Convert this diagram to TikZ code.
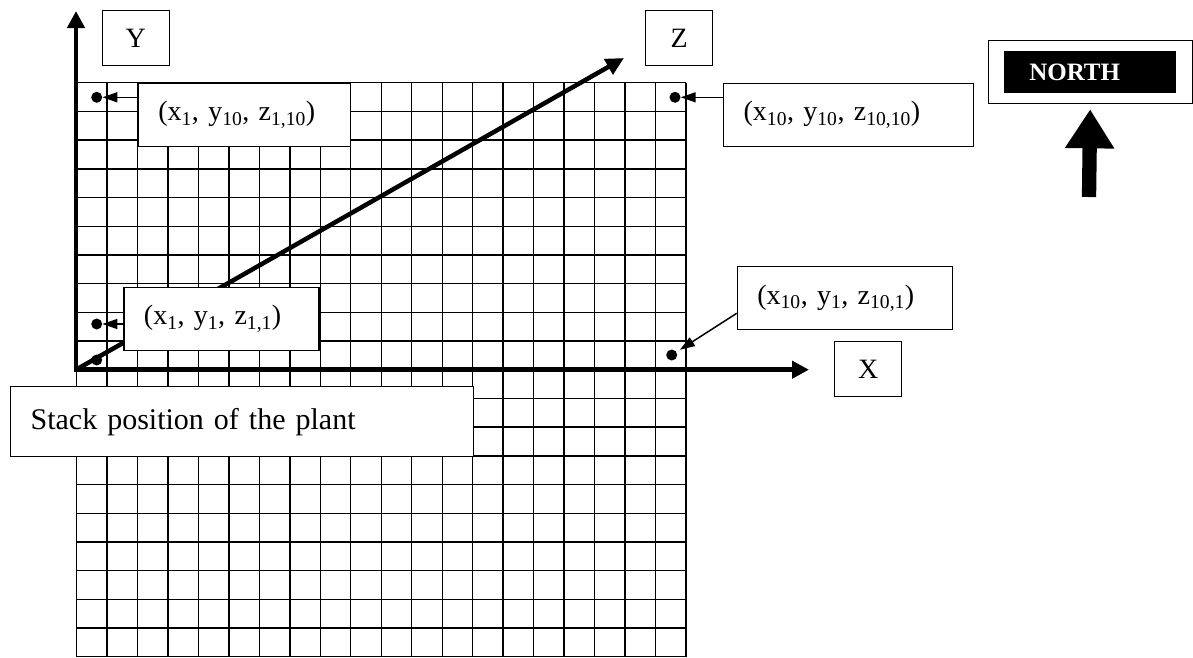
\documentclass[tikz,border=0pt]{standalone}
\usepackage{fontspec}
\setmainfont{Liberation Serif}
\usetikzlibrary{arrows.meta}

\tikzset{
  gridline/.style={line width=1.4pt},
  axisline/.style={line width=4.5pt},
  axlabel/.style={draw,fill=white,line width=1.3pt,minimum width=67pt,minimum height=55pt,anchor=north west,font=\fontsize{28}{30}\selectfont},
  coordbox/.style={draw,fill=white,line width=1.3pt,inner xsep=20pt,minimum height=63pt,align=left,anchor=north west,font=\fontsize{28}{30}\selectfont},
  gpoint/.style={circle,fill,inner sep=0pt,minimum size=11pt},
  pointer/.style={line width=1.5pt,-{Triangle[length=15pt,width=10pt]}},
}

\begin{document}
\begin{tikzpicture}[x=1pt,y=-1pt]
  \useasboundingbox (0,0) rectangle (1193,657);

  % the cells
  \draw[gridline,shift={(76.5,82.7)}] (0,0) grid[xstep=30.475pt,ystep=28.7pt] (609.6,574.1);

  % axes
  \coordinate (o) at (76,369.7);
  \coordinate (ytip) at (76,11);
  \coordinate (xtip) at (809,369.7);
  \coordinate (ztip) at (624,58);
  \node[gpoint] (p0) at (96.7,360) {};
  \draw[axisline,{Triangle[length=17pt,width=17pt]}-{Triangle[length=17pt,width=17pt]}] (ytip) -- (o) -- (xtip);
  \draw[axisline,-{Triangle[length=18pt,width=17pt]}] (o) -- (ztip);

  \node[axlabel] (ylbl) at (101.7,10) {Y};
  \node[axlabel] (zlbl) at (645,10) {Z};
  \node[axlabel] (xlbl) at (834,341) {X};

  % corner points
  \node[coordbox,text width=172pt] (c110) at (137.7,82.7) {(x\textsubscript{1}, y\textsubscript{10}, z\textsubscript{1,10})};
  \node[coordbox,text width=210pt] (c1010) at (723,82.5) {(x\textsubscript{10}, y\textsubscript{10}, z\textsubscript{10,10})};
  \node[coordbox,text width=155pt] (c11) at (123.3,286.7) {(x\textsubscript{1}, y\textsubscript{1}, z\textsubscript{1,1})};
  \node[coordbox,text width=175pt] (c101) at (736.7,266) {(x\textsubscript{10}, y\textsubscript{1}, z\textsubscript{10,1})};
  \node[coordbox,text width=423pt,minimum height=70pt,font=\fontsize{30}{32}\selectfont] (stack) at (10,386) {Stack position of the plant};

  \node[gpoint] (p110) at (96.7,97.3) {};
  \node[gpoint] (p1010) at (675,97.3) {};
  \node[gpoint] (p11) at (96.7,324) {};
  \node[gpoint] (p101) at (671.7,355) {};

  \draw[pointer] (c110.west |- p110) -- (p110);
  \draw[pointer] (c1010.west |- p1010) -- (p1010);
  \draw[pointer] (c11.west |- p11) -- (p11);
  \draw[pointer,shorten >=4pt] ([yshift=17pt]c101.south west) -- (p101);

  % north sign
  \node[draw,line width=1.3pt,minimum width=204pt,minimum height=63pt,anchor=north west] (northbox) at (987.5,40) {};
  \node[fill=black,text=white,font=\bfseries\fontsize{25}{27}\selectfont,minimum width=171.7pt,minimum height=41.7pt,text width=121.7pt,inner xsep=25pt,align=left] (northlbl) at (northbox.center) {NORTH};
  \coordinate (nbase) at (1089,197);
  \draw[line width=14.3pt,-{Triangle[length=39pt,width=46.7pt]}] (nbase) -- ([yshift=-5pt]northbox.south);
\end{tikzpicture}
\end{document}
